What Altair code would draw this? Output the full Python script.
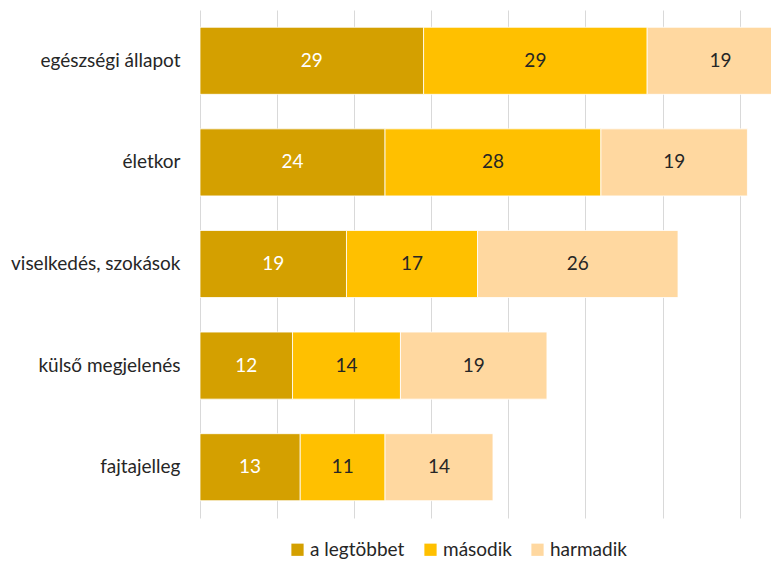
import altair as alt
import pandas as pd

categories = ["egészségi állapot", "életkor", "viselkedés, szokások", "külső megjelenés", "fajtajelleg"]
series_names = ["a legtöbbet", "második", "harmadik"]
s_first = [29, 24, 19, 12, 13]
s_second = [29, 28, 17, 14, 11]
s_third = [19, 19, 26, 19, 14]
colors = ["#D4A000", "#FFC000", "#FFD8A0"]
text_colors = ["#FFFFFF", "#262626", "#262626"]

rows = []
for si, (name, vals) in enumerate(zip(series_names, [s_first, s_second, s_third])):
    for c, v in zip(categories, vals):
        rows.append({"cat": c, "series": name, "value": v, "ord": si, "tcol": text_colors[si]})
df = pd.DataFrame(rows)

FONT = "Lato"
FS = 19
x_max = 571 / 7.71

base = alt.Chart(df).transform_stack(
    stack="value", as_=["x0", "x1"], groupby=["cat"], sort=[alt.SortField("ord")]
).transform_calculate(mid="(datum.x0 + datum.x1) / 2")

y_enc = alt.Y("cat:N", sort=categories, title=None,
              scale=alt.Scale(paddingInner=0.34, paddingOuter=0.17),
              axis=alt.Axis(labelFontSize=FS, labelColor="#262626", labelFont=FONT,
                            ticks=False, domain=False, labelPadding=20, labelLimit=300))

bars = base.mark_bar(clip=True, stroke="#ffffff", strokeWidth=0.8).encode(
    x=alt.X("x0:Q", scale=alt.Scale(domain=[0, x_max], nice=False, zero=True), title=None,
            axis=alt.Axis(values=[0, 10, 20, 30, 40, 50, 60, 70], labels=False, ticks=False,
                          domain=False, grid=True, gridColor="#D9D9D9", gridWidth=1)),
    x2="x1:Q",
    y=y_enc,
    color=alt.Color("series:N", sort=series_names,
                    scale=alt.Scale(domain=series_names, range=colors),
                    legend=alt.Legend(title=None, orient="none", direction="horizontal",
                                      legendX=88, legendY=530, symbolType="square",
                                      symbolSize=150, symbolStrokeWidth=0, labelFontSize=FS,
                                      labelFont=FONT, labelColor="#262626", columnPadding=16,
                                      labelOffset=3)),
    order=alt.Order("ord:Q"),
)

texts = base.mark_text(fontSize=FS, font=FONT, clip=True).encode(
    x=alt.X("mid:Q"),
    y=alt.Y("cat:N", sort=categories),
    text=alt.Text("value:Q"),
    color=alt.Color("tcol:N", scale=None),
)

chart = alt.layer(bars, texts).properties(
    width=571, height=508,
    autosize=alt.AutoSizeParams(type="none"),
    padding={"left": 192, "top": 2, "right": 0, "bottom": 43},
).configure_view(stroke=None)

chart.save("out.html", embed_options={"renderer": "svg", "actions": False})
